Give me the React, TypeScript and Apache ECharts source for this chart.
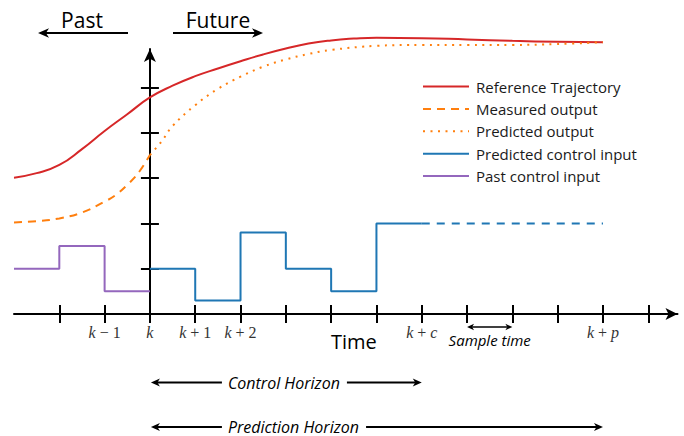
import React, { useEffect, useRef } from 'react';
import * as echarts from 'echarts';

// ---- data (x in sample steps relative to k, y in output units) ----
const refX = [-3, -2.5, -2, -1.5, -1, -0.5, 0, 0.5, 1, 1.5, 2, 2.5, 3, 3.5, 4, 4.5, 5, 6, 7, 8, 9, 10];
const refY = [3.01, 3.11, 3.29, 3.64, 4.04, 4.41, 4.78, 5.04, 5.25, 5.42, 5.58, 5.73, 5.86, 5.97, 6.04, 6.08, 6.1, 6.09, 6.06, 6.03, 6.01, 6.0];

const measX = [-3, -2.5, -2, -1.5, -1, -0.75, -0.5, -0.25, 0];
const measY = [2.02, 2.05, 2.11, 2.24, 2.48, 2.63, 2.85, 3.12, 3.51];

const predX = [0, 0.25, 0.5, 1, 1.5, 2, 2.5, 3, 3.5, 4, 5, 6, 7, 8, 9, 10];
const predY = [3.51, 3.8, 4.15, 4.61, 4.97, 5.24, 5.46, 5.62, 5.74, 5.83, 5.92, 5.94, 5.94, 5.94, 5.96, 6.0];

const ctrlX = [0, 1, 2, 3, 4, 5, 6];
const ctrlY = [1, 0.3, 1.8, 1, 0.5, 2, 2];

const ctrlHoldX = [6, 10];
const ctrlHoldY = [2, 2];

const pastX = [-3, -2, -1, 0];
const pastY = [1, 1.5, 0.5, 0.5];

const xTicks = [-2, -1, 0, 1, 2, 3, 4, 5, 6, 7, 8, 9, 10, 11];
const yTicks = [1, 2, 3, 4, 5];
const xLabelValues = [-1, 0, 1, 2, 6, 10];
const xLabelTexts = ['k − 1', 'k', 'k + 1', 'k + 2', 'k + c', 'k + p'];

const X_MIN = -3;
const X_MAX = 11.645;
const Y_MIN = 0;
const Y_MAX = 5.85;

const SANS = '"Open Sans", Lato, sans-serif';
const SERIF = '"Liberation Serif", "DejaVu Serif", serif';

const zip = (xs: number[], ys: number[]) => xs.map((x, i) => [x, ys[i]]);

function head(tx: number, ty: number, dir: number, L: number, W: number, color = '#000') {
  return {
    type: 'polygon',
    shape: {
      points: [
        [tx, ty],
        [tx - dir * L, ty - W],
        [tx - dir * L * 0.72, ty],
        [tx - dir * L, ty + W],
      ],
    },
    style: { fill: color },
    silent: true,
  };
}

function hline(x1: number, x2: number, y: number, w: number) {
  return {
    type: 'line',
    shape: { x1, y1: y, x2, y2: y },
    style: { stroke: '#000', lineWidth: w },
    silent: true,
  };
}

function measure(text: string, font: string) {
  const c = document.createElement('canvas').getContext('2d');
  if (!c) return text.length * 7.5;
  c.font = font;
  return c.measureText(text).width;
}

export default function App() {
  const ref = useRef<HTMLDivElement>(null);

  useEffect(() => {
    const chart = echarts.init(ref.current!, null, { renderer: 'svg' });
    const tickStyle = { color: '#000', width: 2 };

    chart.setOption({
      animation: false,
      grid: { left: 14, right: 6.5, top: 49, bottom: 122 },
      legend: {
        orient: 'vertical',
        left: 422,
        top: 79,
        padding: 0,
        itemWidth: 46,
        itemHeight: 14,
        itemGap: 7.4,
        selectedMode: false,
        itemStyle: { opacity: 0 },
        data: ['Reference Trajectory', 'Measured output', 'Predicted output', 'Predicted control input', 'Past control input'],
        textStyle: { fontFamily: SANS, fontSize: 15, lineHeight: 14, color: '#1a1a1a', padding: [0, 0, 0, 2] },
      },
      xAxis: [
        {
          type: 'value', min: X_MIN, max: X_MAX, position: 'bottom',
          splitLine: { show: false },
          axisLine: { show: true, onZero: true, symbol: ['none', 'arrow'], symbolSize: [9, 12], lineStyle: { color: '#000', width: 2 } },
          axisTick: { show: true, inside: false, length: 9, customValues: xTicks, lineStyle: tickStyle },
          axisLabel: {
            show: true,
            customValues: xLabelValues,
            margin: 10,
            color: '#333',
            fontFamily: SERIF,
            fontSize: 16,
            formatter: (v: number) => {
              const i = xLabelValues.indexOf(v);
              if (i < 0) return '';
              return xLabelTexts[i].replace(/([a-z])/g, '{i|$1}');
            },
            rich: { i: { fontStyle: 'italic', fontFamily: SERIF, fontSize: 16, color: '#333' } },
          },
        },
        {
          type: 'value', min: X_MIN, max: X_MAX, position: 'bottom',
          splitLine: { show: false },
          axisLine: { show: false, onZero: true },
          axisTick: { show: true, inside: true, length: 9, customValues: xTicks, lineStyle: tickStyle },
          axisLabel: { show: false },
        },
      ],
      yAxis: [
        {
          type: 'value', min: Y_MIN, max: Y_MAX, position: 'left',
          splitLine: { show: false },
          axisLine: { show: true, onZero: true, symbol: ['none', 'arrow'], symbolSize: [9, 13], lineStyle: { color: '#000', width: 2 } },
          axisTick: { show: true, inside: false, length: 9, customValues: yTicks, lineStyle: tickStyle },
          axisLabel: { show: false },
        },
        {
          type: 'value', min: Y_MIN, max: Y_MAX, position: 'left',
          splitLine: { show: false },
          axisLine: { show: false, onZero: true },
          axisTick: { show: true, inside: true, length: 9, customValues: yTicks, lineStyle: tickStyle },
          axisLabel: { show: false },
        },
      ],
      series: [
        {
          name: 'Reference Trajectory', type: 'line', data: zip(refX, refY), smooth: 0.5, clip: false,
          symbol: 'none', lineStyle: { color: '#d62728', width: 2 }, itemStyle: { color: '#d62728' },
        },
        {
          name: 'Measured output', type: 'line', data: zip(measX, measY), smooth: 0.4, clip: false,
          symbol: 'none', lineStyle: { color: '#ff7f0e', width: 2, type: [8, 6] }, itemStyle: { color: '#ff7f0e' },
        },
        {
          name: 'Predicted output', type: 'line', data: zip(predX, predY), smooth: 0.4, clip: false,
          symbol: 'none', lineStyle: { color: '#ff7f0e', width: 2, type: [2, 5.5] }, itemStyle: { color: '#ff7f0e' },
        },
        {
          name: 'Predicted control input', type: 'line', data: zip(ctrlX, ctrlY), step: 'end', clip: false,
          symbol: 'none', lineStyle: { color: '#1f77b4', width: 2 }, itemStyle: { color: '#1f77b4' },
        },
        {
          name: 'Past control input', type: 'line', data: zip(pastX, pastY), step: 'end', clip: false,
          symbol: 'none', lineStyle: { color: '#9467bd', width: 2 }, itemStyle: { color: '#9467bd' },
        },
        {
          name: 'held control input', type: 'line', data: zip(ctrlHoldX, ctrlHoldY), clip: false,
          symbol: 'none', lineStyle: { color: '#1f77b4', width: 2, type: [8, 7] }, itemStyle: { color: '#1f77b4' },
        },
      ],
    });

    const px = (x: number) => (chart.convertToPixel({ gridIndex: 0 }, [x, 0]) as number[])[0];
    const x0 = px(0);
    const xc = px(6);
    const xp = px(10);
    const s1 = px(7);
    const s2 = px(8);

    const hFont = `italic 16px ${SANS}`;
    const wCtrl = measure('Control Horizon', hFont);
    const wPred = measure('Prediction Horizon', hFont);
    const textLeft = x0 + 78;
    const yCtrl = 382.5;
    const yPred = 427;

    const graphic: any[] = [
      // Past / Future
      { type: 'text', style: { text: 'Past', x: 82, y: 20, align: 'center', verticalAlign: 'middle', font: `21px ${SANS}`, fill: '#000' }, silent: true },
      hline(128, 46, 33, 2.2), head(38, 33, -1, 11, 4.8),
      { type: 'text', style: { text: 'Future', x: 218, y: 20, align: 'center', verticalAlign: 'middle', font: `21px ${SANS}`, fill: '#000' }, silent: true },
      hline(173, 255, 33, 2.2), head(263, 33, 1, 11, 4.8),
      // Time
      { type: 'text', style: { text: 'Time', x: px(4.5), y: 341, align: 'center', verticalAlign: 'middle', font: `20px ${SANS}`, fill: '#000' }, silent: true },
      // Sample time
      hline(s1 + 5, s2 - 5, 327, 1.3), head(s1, 327, -1, 7, 3.2), head(s2, 327, 1, 7, 3.2),
      { type: 'text', style: { text: 'Sample time', x: (s1 + s2) / 2, y: 340, align: 'center', verticalAlign: 'middle', font: `italic 15px ${SANS}`, fill: '#000' }, silent: true },
      // Control Horizon
      hline(x0 + 6, textLeft - 6, yCtrl, 1.8), head(x0 + 1, yCtrl, -1, 9, 4),
      { type: 'text', style: { text: 'Control Horizon', x: textLeft, y: yCtrl, align: 'left', verticalAlign: 'middle', font: hFont, fill: '#000' }, silent: true },
      hline(textLeft + wCtrl + 7, xc - 6, yCtrl, 1.8), head(xc, yCtrl, 1, 9, 4),
      // Prediction Horizon
      hline(x0 + 6, textLeft - 6, yPred, 1.8), head(x0 + 1, yPred, -1, 9, 4),
      { type: 'text', style: { text: 'Prediction Horizon', x: textLeft, y: yPred - 0.5, align: 'left', verticalAlign: 'middle', font: hFont, fill: '#000' }, silent: true },
      hline(textLeft + wPred + 7, xp - 6, yPred, 1.8), head(xp, yPred, 1, 9, 4),
    ];
    chart.setOption({ graphic });

    return () => chart.dispose();
  }, []);

  return <div ref={ref} style={{ position: 'absolute', left: 0, top: 0, width: 684, height: 436 }} />;
}
